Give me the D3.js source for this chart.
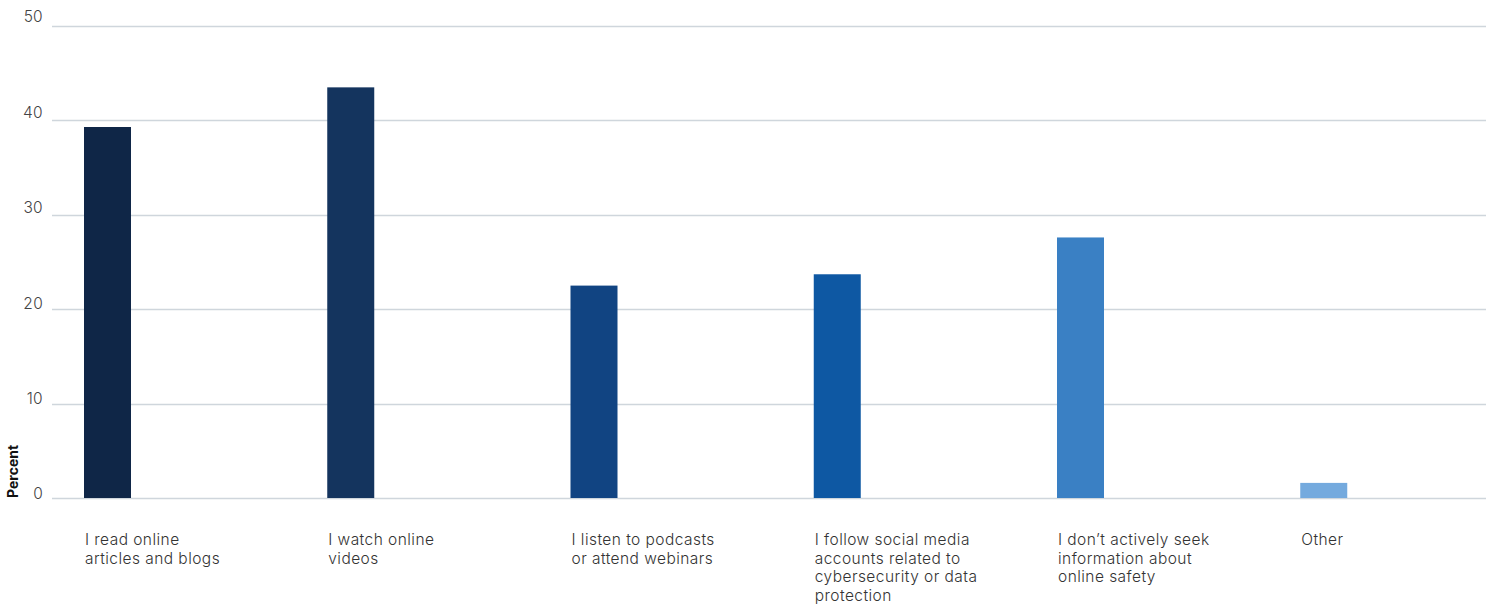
<!DOCTYPE html>
<html>
<head>
<meta charset="utf-8">
<script src="https://cdn.jsdelivr.net/npm/d3@7"></script>
<style>
  html, body { margin: 0; padding: 0; background: #fff; }
  svg { display: block; font-family: Inter, "Open Sans", sans-serif; }
</style>
</head>
<body>
<svg id="chart" width="1494" height="604"></svg>
<script>
// Where people get information about online safety
const categories = [
  ["I read online", "articles and blogs"],
  ["I watch online", "videos"],
  ["I listen to podcasts", "or attend webinars"],
  ["I follow social media", "accounts related to", "cybersecurity or data", "protection"],
  ["I don\u2019t actively seek", "information about", "online safety"],
  ["Other"]
];
const values = [39.3, 43.5, 22.5, 23.7, 27.6, 1.6];
const barColors = ["#0f2647", "#14345e", "#114482", "#0e58a3", "#3a80c4", "#74aade"];
const yTicks = [0, 10, 20, 30, 40, 50];
const yTitle = "Percent";

const svg = d3.select("#chart");
const keys = categories.map((c, i) => "c" + i);

const x = d3.scaleBand().domain(keys).range([84, 1543.5]).paddingInner(0).paddingOuter(0);
const barWidth = 47;
const y = d3.scaleLinear().domain([0, 50]).range([498, 26]);

// Gridlines
svg.append("g")
  .selectAll("line")
  .data(yTicks)
  .join("line")
  .attr("x1", 52)
  .attr("x2", 1486)
  .attr("y1", d => Math.round(y(d)) + 0.5)
  .attr("y2", d => Math.round(y(d)) + 0.5)
  .attr("stroke", "#cfd6dc")
  .attr("stroke-width", 1.3);

// Tick labels
const yLabel = d3.scaleLinear().domain([0, 50]).range([494, 17]);
svg.append("g")
  .selectAll("text")
  .data(yTicks)
  .join("text")
  .attr("x", 43)
  .attr("y", d => yLabel(d))
  .attr("dy", "0.35em")
  .attr("text-anchor", "end")
  .attr("fill", "#444")
  .attr("font-size", 15.5)
  .attr("font-weight", 300)
  .attr("letter-spacing", 0.3)
  .text(d => d);

// Axis title
svg.append("text")
  .attr("transform", "translate(18,498) rotate(-90)")
  .attr("text-anchor", "start")
  .attr("fill", "#111")
  .attr("font-size", 14)
  .attr("font-weight", 700)
  .text(yTitle);

// Bars
svg.append("g")
  .selectAll("rect")
  .data(values)
  .join("rect")
  .attr("x", (d, i) => x(keys[i]))
  .attr("y", d => y(d))
  .attr("width", barWidth)
  .attr("height", d => y(0) - y(d))
  .attr("fill", (d, i) => barColors[i]);

// Category labels
const lab = svg.append("g")
  .selectAll("text")
  .data(categories)
  .join("text")
  .attr("x", (d, i) => x(keys[i]) + 1)
  .attr("y", 545)
  .attr("fill", "#333")
  .attr("font-size", 15.5)
  .attr("font-weight", 300)
  .attr("letter-spacing", 0.45);
lab.selectAll("tspan")
  .data(d => d)
  .join("tspan")
  .attr("x", function () { return d3.select(this.parentNode).attr("x"); })
  .attr("dy", (d, i) => i === 0 ? 0 : 18.6)
  .text(d => d);
</script>
</body>
</html>
